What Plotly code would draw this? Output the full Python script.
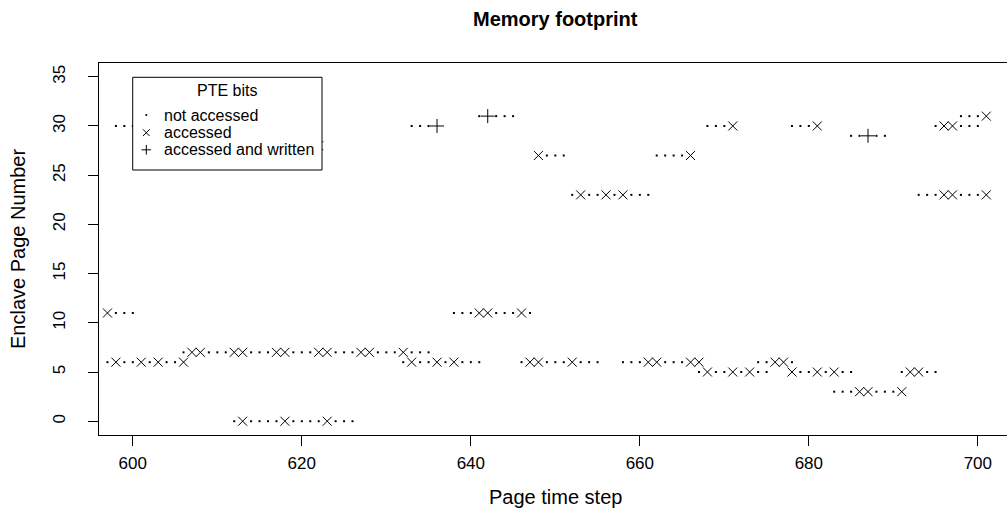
import plotly.graph_objects as go

# ---------------- data (time step, page number) ----------------
# not accessed (".")
na_t = [598, 599, 600, 638, 639, 640, 643, 644, 645, 647,                       # page 11
        597, 599, 600, 602, 604, 605, 632, 634, 635, 637, 639, 640, 641,         # page 6
        646, 649, 650, 651, 653, 654, 655, 658, 659, 660, 663, 664, 665, 674, 675, 678,
        606, 609, 610, 611, 614, 615, 616, 619, 620, 621, 624, 625, 626,         # page 7
        629, 630, 631, 633, 634, 635,
        612, 614, 615, 616, 617, 619, 620, 621, 622, 624, 625, 626,              # page 0
        598, 599, 600, 633, 634, 635, 668, 669, 670, 678, 679, 680, 695, 698, 699, 700,  # page 30
        641, 643, 644, 645, 698, 699, 700,                                       # page 31
        649, 650, 651, 662, 663, 664, 665,                                       # page 27
        652, 654, 655, 657, 659, 660, 661, 693, 694, 695, 698, 699, 700,         # page 23
        667, 669, 670, 672, 674, 675, 679, 680, 682, 684, 685, 691, 694, 695,    # page 5
        685, 686, 688, 689,                                                      # page 29
        683, 684, 685, 688, 689, 690]                                            # page 3
na_page = ([11] * 10 + [6] * 29 + [7] * 19 + [0] * 12 + [30] * 16 + [31] * 7 +
           [27] * 7 + [23] * 13 + [5] * 14 + [29] * 4 + [3] * 6)

# accessed ("x")
acc_t = [597, 641, 642, 646,                                                     # page 11
         598, 601, 603, 606, 633, 636, 638, 647, 648, 652, 661, 662, 666, 667, 676, 677,  # page 6
         607, 608, 612, 613, 617, 618, 622, 623, 627, 628, 632,                  # page 7
         613, 618, 623,                                                          # page 0
         648, 666,                                                               # page 27
         622,                                                                    # page 28
         653, 656, 658, 696, 697, 701,                                           # page 23
         671, 681, 696, 697,                                                     # page 30
         701,                                                                    # page 31
         668, 671, 673, 678, 681, 683, 692, 693,                                 # page 5
         686, 687, 691]                                                          # page 3
acc_page = ([11] * 4 + [6] * 16 + [7] * 11 + [0] * 3 + [27] * 2 + [28] * 1 +
            [23] * 6 + [30] * 4 + [31] * 1 + [5] * 8 + [3] * 3)

# accessed and written ("+")
wr_t = [636, 642, 687]
wr_page = [30, 31, 29]

series_names = ["not accessed", "accessed", "accessed and written"]
legend_title = "PTE bits"
x_ticks = [600, 620, 640, 660, 680, 700]
y_ticks = [0, 5, 10, 15, 20, 25, 30, 35]

# ---------------- layout constants ----------------
FONT = "Liberation Sans, Arial, Helvetica, sans-serif"
W, H = 1007, 532
ML, MR, MT, MB = 99, 0, 63, 97
PW, PH = W - ML - MR, H - MT - MB


def px(xp):   # page pixel -> paper x
    return (xp - ML) / PW


def py(yp):   # page pixel -> paper y
    return (H - MB - yp) / PH


fig = go.Figure()
fig.add_trace(go.Scatter(x=na_t, y=na_page, mode="markers", name=series_names[0],
                         marker=dict(symbol="square", size=2, color="black",
                                     line=dict(width=0))))
fig.add_trace(go.Scatter(x=acc_t, y=acc_page, mode="markers", name=series_names[1],
                         marker=dict(symbol="x-thin", size=9, color="black",
                                     line=dict(width=1, color="black"))))
fig.add_trace(go.Scatter(x=wr_t, y=wr_page, mode="markers", name=series_names[2],
                         marker=dict(symbol="cross-thin", size=10, color="black",
                                     line=dict(width=1, color="black"))))

axis_common = dict(showgrid=False, zeroline=False, showline=True, linecolor="black",
                   linewidth=1, ticks="outside", ticklen=10, tickwidth=1,
                   tickcolor="black", tickfont=dict(family=FONT, size=17, color="black"))

fig.update_xaxes(range=[596, 703.45], tickmode="array", tickvals=x_ticks,
                 mirror=True, ticklabelstandoff=3, **axis_common)
fig.update_yaxes(range=[-1.4, 36.4], tickmode="array", tickvals=y_ticks,
                 tickangle=-90, ticklabelstandoff=16, **axis_common)

# ---------------- hand-drawn legend box (R style) ----------------
LX0, LX1, LY0, LY1 = 132.7, 322, 77.3, 170
SYM_X, TXT_X = 146.3, 161.7
ROW_Y = [115, 132.7, 149.8]
shapes = [dict(type="rect", xref="paper", yref="paper",
               x0=px(LX0), x1=px(LX1), y0=py(LY1), y1=py(LY0),
               line=dict(color="black", width=1), fillcolor="white", layer="above")]
d = 0.9
shapes.append(dict(type="rect", xref="paper", yref="paper",
                   x0=px(SYM_X - d), x1=px(SYM_X + d), y0=py(ROW_Y[0] + d), y1=py(ROW_Y[0] - d),
                   line=dict(width=0), fillcolor="black", layer="above"))
a = 3.4
for sy in (1, -1):
    shapes.append(dict(type="line", xref="paper", yref="paper",
                       x0=px(SYM_X - a), x1=px(SYM_X + a),
                       y0=py(ROW_Y[1] - a * sy), y1=py(ROW_Y[1] + a * sy),
                       line=dict(color="black", width=1), layer="above"))
b = 4.8
shapes.append(dict(type="line", xref="paper", yref="paper",
                   x0=px(SYM_X - b), x1=px(SYM_X + b), y0=py(ROW_Y[2]), y1=py(ROW_Y[2]),
                   line=dict(color="black", width=1), layer="above"))
shapes.append(dict(type="line", xref="paper", yref="paper",
                   x0=px(SYM_X), x1=px(SYM_X), y0=py(ROW_Y[2] - b), y1=py(ROW_Y[2] + b),
                   line=dict(color="black", width=1), layer="above"))

annotations = [
    dict(text="<b>Memory footprint</b>", x=650, xref="x", y=py(19), yref="paper",
         xanchor="center", yanchor="middle", showarrow=False,
         font=dict(family=FONT, size=20, color="black")),
    dict(text="Page time step", x=650, xref="x", y=py(497), yref="paper",
         xanchor="center", yanchor="middle", showarrow=False,
         font=dict(family=FONT, size=20, color="black")),
    dict(text="Enclave Page Number", x=px(18), xref="paper", y=0.5, yref="paper",
         xanchor="center", yanchor="middle", showarrow=False, textangle=-90,
         font=dict(family=FONT, size=20, color="black")),
    dict(text=legend_title, x=px((LX0 + LX1) / 2), xref="paper", y=py(90.7), yref="paper",
         xanchor="center", yanchor="middle", showarrow=False,
         font=dict(family=FONT, size=16, color="black")),
]
for name, ry in zip(series_names, ROW_Y):
    annotations.append(dict(text=name, x=px(TXT_X), xref="paper", y=py(ry), yref="paper",
                            xanchor="left", yanchor="middle", showarrow=False,
                            font=dict(family=FONT, size=16, color="black")))

fig.update_layout(
    width=W, height=H,
    margin=dict(l=ML, r=MR, t=MT, b=MB, pad=0),
    plot_bgcolor="white", paper_bgcolor="white",
    font=dict(family=FONT, size=17, color="black"),
    showlegend=False,
    shapes=shapes,
    annotations=annotations,
)

fig.write_html("out.html")
